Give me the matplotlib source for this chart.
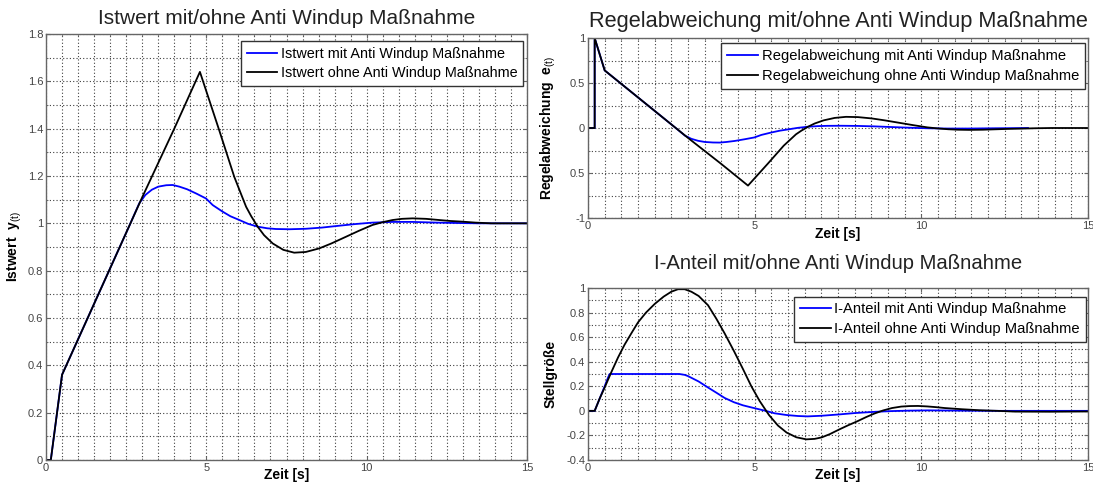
import numpy as np
import matplotlib.pyplot as plt
from matplotlib.ticker import MultipleLocator, FormatStrFormatter

plt.rcParams['font.family'] = ['Liberation Sans', 'DejaVu Sans']
plt.rcParams['mathtext.fontset'] = 'custom'
plt.rcParams['mathtext.rm'] = 'Liberation Sans'
plt.rcParams['mathtext.it'] = 'Liberation Sans'

# Istwert y(t)
t_y_ohne = [0, 0.15, 0.5, 1.0, 2.0, 3.0, 4.0, 4.8, 5.4, 5.87, 6.05, 6.24, 6.4, 6.6, 6.8, 7.07, 7.4,
            7.74, 8.1, 8.52, 8.9, 9.35, 9.75, 10.18, 10.5, 10.81, 11.1, 11.43, 11.85, 12.26, 12.6,
            12.99, 13.4, 13.9, 15]
y_ohne = [0, 0, 0.36, 0.51, 0.81, 1.11, 1.40, 1.64, 1.394, 1.197, 1.135, 1.07, 1.03, 0.986, 0.95,
          0.915, 0.888, 0.876, 0.879, 0.894, 0.915, 0.943, 0.968, 0.993, 1.005, 1.014, 1.019, 1.021,
          1.019, 1.014, 1.01, 1.007, 1.003, 1.0, 1.0]
t_y_mit = [0, 0.15, 0.5, 1.0, 2.0, 2.6, 2.91, 3.1, 3.3, 3.5, 3.75, 3.95, 4.16, 4.4, 4.7, 4.99, 5.2,
           5.5, 5.75, 6.03, 6.3, 6.6, 6.9, 7.17, 7.6, 8.1, 8.6, 9.15, 9.65, 10.18, 10.8, 11.43, 12.2,
           12.99, 13.5, 15]
y_mit = [0, 0, 0.36, 0.51, 0.81, 0.99, 1.085, 1.12, 1.142, 1.155, 1.161, 1.162, 1.155, 1.144, 1.125,
         1.105, 1.077, 1.05, 1.03, 1.014, 0.998, 0.986, 0.979, 0.976, 0.975, 0.977, 0.982, 0.99,
         0.997, 1.003, 1.006, 1.006, 1.003, 1.001, 1.0, 1.0]

# Regelabweichung e(t)
t_e_ohne = [0, 0.2, 0.2, 0.5, 1.0, 2.0, 3.0, 4.0, 4.8, 5.4, 5.87, 6.05, 6.24, 6.4, 6.6, 6.8, 7.07,
            7.4, 7.74, 8.1, 8.52, 8.9, 9.35, 9.75, 10.18, 10.5, 10.81, 11.1, 11.43, 11.85, 12.26,
            12.6, 12.99, 13.4, 13.9, 15]
e_ohne = [0, 0, 1.0, 0.64, 0.49, 0.19, -0.11, -0.40, -0.64, -0.394, -0.197, -0.135, -0.07, -0.03,
          0.014, 0.05, 0.085, 0.112, 0.124, 0.121, 0.106, 0.085, 0.057, 0.032, 0.007, -0.005, -0.014,
          -0.019, -0.021, -0.019, -0.014, -0.01, -0.007, -0.003, 0, 0]
t_e_mit = [0, 0.2, 0.2, 0.5, 1.0, 2.0, 2.6, 2.91, 3.1, 3.3, 3.5, 3.75, 3.95, 4.16, 4.4, 4.7, 4.99,
           5.2, 5.5, 5.75, 6.03, 6.3, 6.6, 6.9, 7.17, 7.6, 8.1, 8.6, 9.15, 9.65, 10.18, 10.8, 11.43,
           12.2, 12.99, 13.2]
e_mit = [0, 0, 1.0, 0.64, 0.49, 0.19, 0.01, -0.085, -0.12, -0.142, -0.155, -0.161, -0.162, -0.155,
         -0.144, -0.125, -0.105, -0.077, -0.05, -0.03, -0.014, 0.002, 0.014, 0.021, 0.024, 0.025,
         0.023, 0.018, 0.01, 0.003, -0.003, -0.006, -0.006, -0.003, -0.001, 0]

# I-Anteil (Stellgröße)
t_i_ohne = [0, 0.2, 0.35, 0.5, 0.7, 0.9, 1.1, 1.32, 1.5, 1.74, 2.0, 2.27, 2.5, 2.7, 2.9, 3.1, 3.32,
            3.6, 3.85, 4.1, 4.38, 4.65, 4.9, 5.15, 5.43, 5.7, 5.96, 6.25, 6.55, 6.8, 7.01, 7.25,
            7.54, 7.8, 8.07, 8.35, 8.6, 8.85, 9.12, 9.4, 9.65, 9.9, 10.18, 10.45, 10.7, 11.23,
            11.75, 12.29, 12.8, 13.86, 15]
i_ohne = [0, 0, 0.1, 0.19, 0.315, 0.434, 0.54, 0.64, 0.72, 0.8, 0.87, 0.93, 0.97, 0.99, 0.99, 0.97,
          0.935, 0.86, 0.75, 0.63, 0.486, 0.34, 0.2, 0.08, -0.034, -0.12, -0.177, -0.215, -0.232,
          -0.228, -0.216, -0.19, -0.151, -0.118, -0.086, -0.05, -0.021, 0.003, 0.023, 0.035, 0.039,
          0.04, 0.036, 0.03, 0.023, 0.013, 0.005, 0.0, -0.006, -0.007, -0.005]
t_i_mit = [0, 0.2, 0.35, 0.5, 0.6, 0.65, 2.74, 2.9, 3.0, 3.32, 3.6, 3.85, 4.1, 4.38, 4.65, 4.9, 5.1,
           5.33, 5.6, 5.96, 6.3, 6.59, 7.0, 7.54, 8.0, 8.6, 9.1, 9.65, 10.2, 10.7, 11.5, 12.29, 15]
i_mit = [0, 0, 0.1, 0.2, 0.27, 0.3, 0.3, 0.293, 0.283, 0.239, 0.19, 0.148, 0.105, 0.07, 0.045, 0.028,
         0.015, 0.0, -0.02, -0.034, -0.042, -0.045, -0.04, -0.029, -0.018, -0.008, -0.002, 0.002,
         0.004, 0.003, 0.001, 0.0, 0.0]

W, H = 1093, 486
fig = plt.figure(figsize=(W / 100, H / 100), dpi=100)


def box(x0, y0, x1, y1):
    return [x0 / W, 1 - y1 / H, (x1 - x0) / W, (y1 - y0) / H]


def style(ax, ymin, ymax, ymaj, ymin_step, title, tsize, tpad, ylabel):
    ax.set_xlim(0, 15)
    ax.set_ylim(ymin, ymax)
    ax.xaxis.set_major_locator(MultipleLocator(5))
    ax.xaxis.set_minor_locator(MultipleLocator(0.5))
    ax.yaxis.set_major_locator(MultipleLocator(ymaj))
    ax.yaxis.set_minor_locator(MultipleLocator(ymin_step))
    ax.yaxis.set_major_formatter(FormatStrFormatter('%g'))
    ax.grid(which='both', color='0.25', linestyle=(0, (1, 2)), linewidth=0.8)
    ax.tick_params(which='both', direction='in', top=True, right=True, labelsize=8,
                   labelcolor='#444444', color='0.4')
    ax.tick_params(which='major', length=3, pad=2)
    ax.tick_params(which='minor', length=1.5)
    for s in ax.spines.values():
        s.set_color('0.4')
        s.set_linewidth(1.0)
    ax.set_title(title, fontsize=tsize, color='#222222', pad=tpad)
    ax.set_xlabel('Zeit [s]', fontsize=10, fontweight='bold', va='top')
    ax.set_ylabel(ylabel, fontsize=10, fontweight='bold')


def legend(ax, anchor, size):
    leg = ax.legend(loc='upper right', bbox_to_anchor=anchor, fontsize=size, fancybox=False,
                    framealpha=1, edgecolor='0.2', handlelength=2.1, handletextpad=0.25,
                    borderpad=0.4, labelspacing=0.4, borderaxespad=0)
    leg.get_frame().set_linewidth(1.0)


# Istwert
ax1 = fig.add_axes(box(46, 34, 527, 460))
ax1.plot(t_y_mit, y_mit, color='#0000ff', lw=1.3, label='Istwert mit Anti Windup Maßnahme')
ax1.plot(t_y_ohne, y_ohne, color='k', lw=1.3, label='Istwert ohne Anti Windup Maßnahme')
style(ax1, 0, 1.8, 0.2, 0.1, 'Istwert mit/ohne Anti Windup Maßnahme', 15, 7,
      r'Istwert  y$_{\mathrm{(t)}}$')
ax1.xaxis.set_label_coords(0.5, -0.019)
ax1.yaxis.set_label_coords(-0.046, 0.5)
legend(ax1, (0.992, 0.984), 10.4)

# Regelabweichung
ax2 = fig.add_axes(box(588, 38, 1088, 218))
ax2.plot(t_e_mit, e_mit, color='#0000ff', lw=1.3, label='Regelabweichung mit Anti Windup Maßnahme')
ax2.plot(t_e_ohne, e_ohne, color='k', lw=1.3, label='Regelabweichung ohne Anti Windup Maßnahme')
style(ax2, -1, 1, 0.5, 0.25, 'Regelabweichung mit/ohne Anti Windup Maßnahme', 15.7, 8,
      r'Regelabweichung  e$_{\mathrm{(t)}}$')
ax2.set_yticks([-1, -0.5, 0, 0.5, 1])
ax2.set_yticklabels(['-1', '0.5', '0', '0.5', '1'])
ax2.xaxis.set_label_coords(0.5, -0.05)
ax2.yaxis.set_label_coords(-0.06, 0.5)
legend(ax2, (0.994, 0.97), 10.6)

# I-Anteil
ax3 = fig.add_axes(box(588, 288, 1088, 460))
ax3.plot(t_i_mit, i_mit, color='#0000ff', lw=1.3, label='I-Anteil mit Anti Windup Maßnahme')
ax3.plot(t_i_ohne, i_ohne, color='k', lw=1.3, label='I-Anteil ohne Anti Windup Maßnahme')
style(ax3, -0.4, 1, 0.2, 0.1, 'I-Anteil mit/ohne Anti Windup Maßnahme', 14.6, 14, 'Stellgröße')
ax3.xaxis.set_label_coords(0.5, -0.047)
ax3.yaxis.set_label_coords(-0.06, 0.5)
legend(ax3, (0.996, 0.95), 10.6)

fig.savefig('out.png', dpi=100, facecolor='white')
